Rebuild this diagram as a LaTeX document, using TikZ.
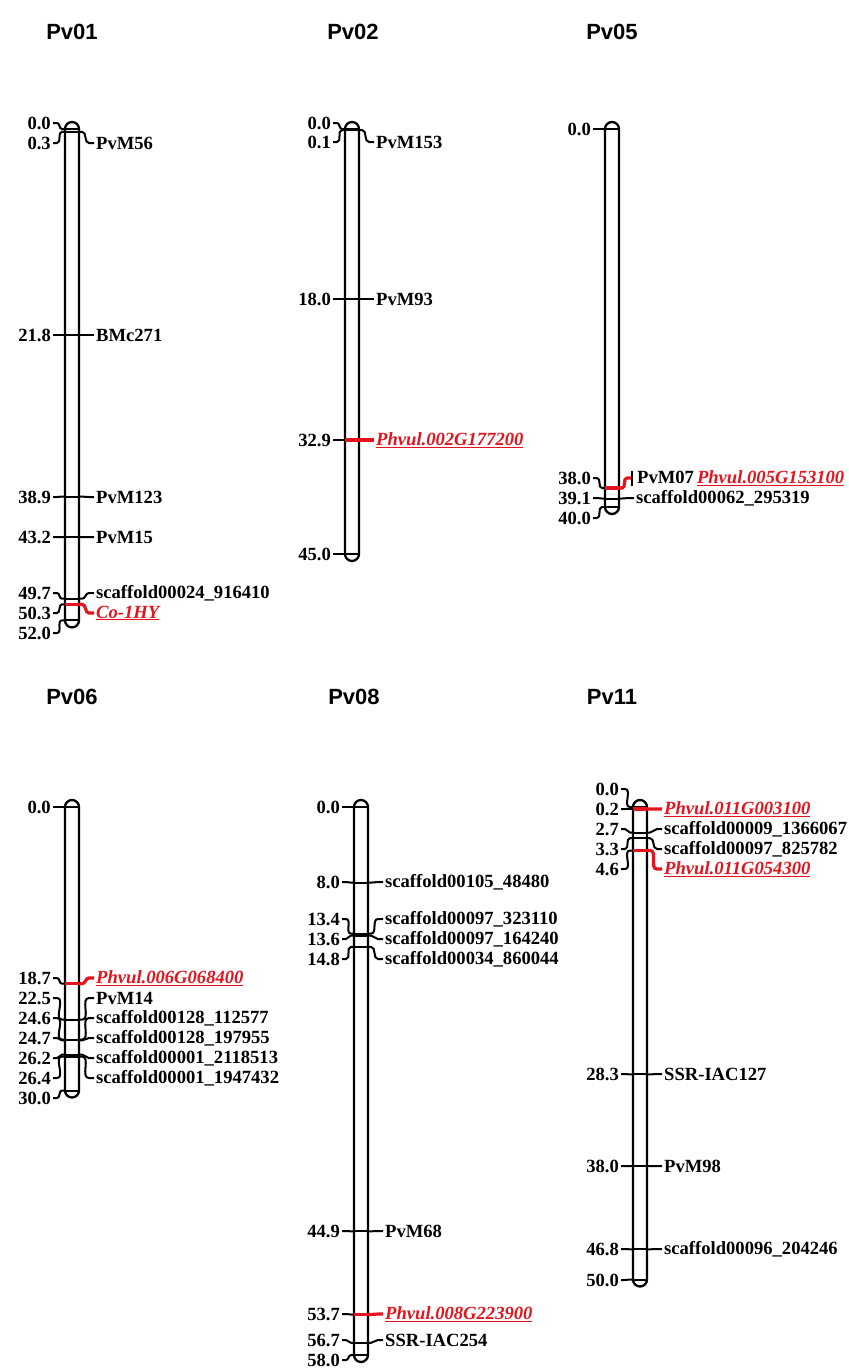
\documentclass[tikz,border=0pt]{standalone}
\usepackage{fontspec}
\setmainfont{Liberation Serif}
\newfontfamily\ttlfont{Liberation Sans}
\usetikzlibrary{calc}
\definecolor{qtl}{RGB}{228,20,30}
\newcommand{\labfnt}{\rmfamily\bfseries\fontsize{18.6}{22}\selectfont}
\newcommand{\ttlfnt}{\ttlfont\bfseries\fontsize{22}{26}\selectfont}
\tikzset{
  chrom/.style={line width=2.3pt, rounded corners=7pt},
  conn/.style={line width=2pt, line cap=butt},
  redln/.style={line width=3.2pt, draw=qtl},
  lab/.style={font=\labfnt, inner xsep=2pt, inner ysep=0pt},
  ttl/.style={font=\ttlfnt, inner sep=0pt}
}
\newcommand{\redlab}[1]{\textcolor{qtl}{\underline{\itshape #1}}}
% left label only + cross line
\newcommand{\ML}[5]{%
  \coordinate (#1a) at ({#2-7},#3);
  \coordinate (#1b) at ({#2+7},#3);
  \node[lab,anchor=east] (#1L) at ({#2-19},#4) {#5};
  \draw[conn] (#1L.east) -- ++(4,0) to[out=0,in=180] ([xshift=-3pt]#1a) -- (#1a);
  \draw[conn] (#1a) -- (#1b);
}
\newcommand{\MR}[6]{%
  \node[lab,anchor=west] (#1R) at ({#2+22},#4) {#5};
  \draw[#6] (#1b) -- ([xshift=3pt]#1b) to[out=0,in=180] ([xshift=-5pt]#1R.west) -- (#1R.west);
}
\newcommand{\MK}[7]{\ML{#1}{#2}{#3}{#4}{#5}\MR{#1}{#2}{#3}{#6}{#7}{conn}}
\newcommand{\MKred}[7]{\ML{#1}{#2}{#3}{#4}{#5}\draw[redln] (#1a) -- (#1b);\MR{#1}{#2}{#3}{#6}{\redlab{#7}}{redln}}
\begin{document}
\begin{tikzpicture}[x=1pt,y=-1pt]
\useasboundingbox[fill=white] (0,0) rectangle (849,1369);
% titles
\node[ttl] (t1) at (72,32) {Pv01};
\node[ttl] (t2) at (353,32) {Pv02};
\node[ttl] (t5) at (612,32) {Pv05};
\node[ttl] (t6) at (72,697) {Pv06};
\node[ttl] (t8) at (354,697) {Pv08};
\node[ttl] (t11) at (612,697) {Pv11};
% chromosomes
\draw[chrom] (65,122) rectangle (79,627.4);
\draw[chrom] (345,122) rectangle (359,561);
\draw[chrom] (605,122) rectangle (619,514);
\draw[chrom] (65,800) rectangle (79,1097.5);
\draw[chrom] (354,800) rectangle (368,1362);
\draw[chrom] (633,800) rectangle (647,1286.5);
% Pv01
\ML{a0}{72}{129}{123}{0.0}
\MK{a1}{72}{131.8}{143}{0.3}{143}{PvM56}
\MK{a2}{72}{335}{335}{21.8}{335}{BMc271}
\MK{a3}{72}{496.6}{497}{38.9}{497}{PvM123}
\MK{a4}{72}{537.2}{537}{43.2}{537}{PvM15}
\MK{a5}{72}{598.7}{593}{49.7}{593}{scaffold00024\_916410}
\MKred{a6}{72}{604.3}{613}{50.3}{613}{Co-1HY}
\ML{a7}{72}{620.4}{633}{52.0}
% Pv02
\ML{b0}{352}{129}{123}{0.0}
\MK{b1}{352}{130}{142}{0.1}{142}{PvM153}
\MK{b2}{352}{299}{299}{18.0}{299}{PvM93}
\MKred{b3}{352}{440}{440}{32.9}{440}{Phvul.002G177200}
\ML{b4}{352}{554}{554}{45.0}
% Pv05
\ML{c0}{612}{129}{129}{0.0}
\ML{c1}{612}{488}{478}{38.0}
\draw[redln] (c1a) -- (c1b);
\coordinate (pvbar) at (631,478);
\coordinate (pvbarT) at (632,471);
\coordinate (pvbarB) at (632,486);
\draw[redln] (c1b) -- ([xshift=3pt]c1b) to[out=0,in=180] ([xshift=-4pt]pvbar) -- (pvbar);
\draw[conn] (pvbarT) -- (pvbarB);
\node[lab,anchor=west] (c1R) at (635,478) {PvM07\hspace{3pt}\redlab{Phvul.005G153100}};
\MK{c2}{612}{498.5}{498}{39.1}{498}{scaffold00062\_295319}
\ML{c3}{612}{507}{518}{40.0}
% Pv06
\ML{d0}{72}{807}{807}{0.0}
\MKred{d1}{72}{983.7}{978}{18.7}{978}{Phvul.006G068400}
\MK{d2}{72}{1019.6}{998}{22.5}{998}{PvM14}
\MK{d3}{72}{1039.5}{1018}{24.6}{1018}{scaffold00128\_112577}
\MK{d4}{72}{1040.4}{1038}{24.7}{1038}{scaffold00128\_197955}
\MK{d5}{72}{1054.6}{1058}{26.2}{1058}{scaffold00001\_2118513}
\MK{d6}{72}{1056.5}{1078}{26.4}{1078}{scaffold00001\_1947432}
\ML{d7}{72}{1090.5}{1098}{30.0}
% Pv08
\ML{e0}{361}{807}{807}{0.0}
\MK{e1}{361}{882.6}{882}{8.0}{882}{scaffold00105\_48480}
\MK{e2}{361}{933.6}{919}{13.4}{919}{scaffold00097\_323110}
\MK{e3}{361}{935.5}{939}{13.6}{939}{scaffold00097\_164240}
\MK{e4}{361}{946.9}{959}{14.8}{959}{scaffold00034\_860044}
\MK{e5}{361}{1231.3}{1231}{44.9}{1231}{PvM68}
\MKred{e6}{361}{1314.5}{1314}{53.7}{1314}{Phvul.008G223900}
\MK{e7}{361}{1342.8}{1340}{56.7}{1340}{SSR-IAC254}
\ML{e8}{361}{1355.1}{1360}{58.0}
% Pv11
\ML{f0}{640}{807}{789}{0.0}
\MKred{f1}{640}{808.9}{809}{0.2}{809}{Phvul.011G003100}
\MK{f2}{640}{832.5}{829}{2.7}{829}{scaffold00009\_1366067}
\MK{f3}{640}{838.2}{849}{3.3}{849}{scaffold00097\_825782}
\MKred{f4}{640}{850.5}{869}{4.6}{869}{Phvul.011G054300}
\MK{f5}{640}{1074.4}{1074}{28.3}{1074}{SSR-IAC127}
\MK{f6}{640}{1166.1}{1166}{38.0}{1166}{PvM98}
\MK{f7}{640}{1249.3}{1249}{46.8}{1249}{scaffold00096\_204246}
\ML{f8}{640}{1279.5}{1280}{50.0}
\end{tikzpicture}
\end{document}
